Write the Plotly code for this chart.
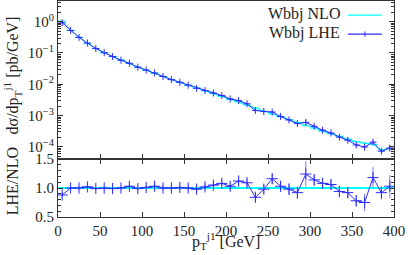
import plotly.graph_objects as go

# ---------------- data ----------------
pt = [5, 15, 25, 35, 45, 55, 65, 75, 85, 95, 105, 115, 125, 135, 145, 155, 165, 175, 185, 195,
      205, 215, 225, 235, 245, 255, 265, 275, 285, 295, 305, 315, 325, 335, 345, 355, 365, 375, 385, 395]
bin_half = [5] * 40

nlo = [1.05, 0.525, 0.316, 0.204, 0.141, 0.102, 0.0776, 0.0589, 0.0457, 0.0355,
       0.0282, 0.0224, 0.0178, 0.0141, 0.0115, 0.00933, 0.00759, 0.00617, 0.00501, 0.00407,
       0.00331, 0.00269, 0.00219, 0.00174, 0.00138, 0.00112, 9.12e-4, 7.41e-4, 6.03e-4, 4.90e-4,
       3.98e-4, 3.16e-4, 2.63e-4, 2.19e-4, 1.78e-4, 1.48e-4, 1.32e-4, 1.20e-4, 7.94e-5, 8.91e-5]
nlo_relerr = [0.02] * 10 + [0.03] * 10 + [0.04] * 10 + [0.05] * 10

ratio = [0.88, 1.00, 1.00, 1.02, 0.99, 1.00, 0.99, 1.00, 1.03, 0.99,
         1.01, 1.03, 1.00, 1.00, 1.01, 1.00, 0.98, 1.02, 1.05, 1.08,
         1.03, 1.12, 1.09, 0.84, 0.98, 1.16, 1.03, 0.98, 0.92, 1.24,
         1.14, 1.08, 1.06, 0.94, 0.92, 0.78, 0.75, 1.18, 0.92, 1.03]
ratio_err = [0.05, 0.03, 0.03, 0.03, 0.03, 0.03, 0.03, 0.03, 0.035, 0.035,
             0.04, 0.04, 0.04, 0.04, 0.045, 0.045, 0.05, 0.05, 0.055, 0.055,
             0.06, 0.07, 0.07, 0.08, 0.08, 0.09, 0.09, 0.10, 0.11, 0.22,
             0.10, 0.08, 0.09, 0.10, 0.10, 0.10, 0.15, 0.18, 0.12, 0.20]
nlo_ratio = [1.0] * 40

x_ticks = [0, 50, 100, 150, 200, 250, 300, 350, 400]
y_major = [1, 0.1, 0.01, 0.001, 0.0001]
y_major_text = ["10<sup>0</sup>", "10<sup>−1</sup>", "10<sup>−2</sup>", "10<sup>−3</sup>", "10<sup>−4</sup>"]
ratio_ticks = [0.5, 1.0, 1.5]
ratio_tick_text = ["0.5", "1.0", "1.5"]

# derived
lhe = [n * r for n, r in zip(nlo, ratio)]
lhe_err = [n * e for n, e in zip(nlo, ratio_err)]
nlo_err = [n * e for n, e in zip(nlo, nlo_relerr)]
y_minor = [m * 10.0 ** k for k in range(-5, 1) for m in range(2, 10)]

CYAN = "#00ffff"
BLUE = "#2b2bff"
ERRBLUE = "#7a7aff"
FRAME = "#333333"
FONT = "Liberation Serif"
TXT = "#222222"

fig = go.Figure()

# ---- main panel ----
fig.add_trace(go.Scatter(
    x=pt, y=nlo, mode="lines", xaxis="x", yaxis="y",
    line=dict(color=CYAN, width=1),
    error_x=dict(type="data", array=bin_half, color=CYAN, thickness=1, width=0),
    error_y=dict(type="data", array=nlo_err, color=CYAN, thickness=1, width=0),
    showlegend=False))
fig.add_trace(go.Scatter(
    x=pt, y=lhe, mode="lines+markers", xaxis="x", yaxis="y",
    line=dict(color=BLUE, width=1),
    marker=dict(symbol="cross-thin", size=5, line=dict(color=BLUE, width=1)),
    error_y=dict(type="data", array=lhe_err, color=ERRBLUE, thickness=1, width=0),
    showlegend=False))

# ---- ratio panel ----
fig.add_trace(go.Scatter(
    x=pt, y=nlo_ratio, mode="lines", xaxis="x2", yaxis="y2",
    line=dict(color=CYAN, width=2),
    error_x=dict(type="data", array=bin_half, color=CYAN, thickness=2, width=0),
    showlegend=False))
fig.add_trace(go.Scatter(
    x=pt, y=ratio, mode="lines+markers", xaxis="x2", yaxis="y2",
    line=dict(color=BLUE, width=1),
    marker=dict(symbol="cross-thin", size=8, line=dict(color=BLUE, width=1)),
    error_y=dict(type="data", array=ratio_err, color=ERRBLUE, thickness=1, width=0),
    showlegend=False))

split = 0.2685
axis_common = dict(showline=True, linecolor=FRAME, linewidth=1, ticks="inside",
                   tickcolor=FRAME, showgrid=False, zeroline=False, automargin=False)

fig.update_layout(
    width=408, height=255,
    margin=dict(l=58, r=14, t=1, b=38),
    paper_bgcolor="white", plot_bgcolor="white",
    font=dict(family=FONT, size=15, color=TXT),
    xaxis=dict(domain=[0, 1], anchor="y", range=[0, 400], tickvals=x_ticks,
               showticklabels=False, ticklen=5, mirror=True, **axis_common),
    yaxis=dict(domain=[split, 1], anchor="x", type="log", range=[-4.387, 0.661],
               tickvals=y_major, ticktext=y_major_text, ticklen=5, mirror="allticks",
               minor=dict(tickvals=y_minor, ticks="inside", ticklen=3, tickcolor=FRAME),
               **axis_common),
    xaxis2=dict(domain=[0, 1], anchor="y2", range=[0, 400], tickvals=x_ticks,
                ticklen=5, mirror="allticks", **axis_common),
    yaxis2=dict(domain=[0, split], anchor="x2", range=[0.5, 1.5],
                tickvals=ratio_ticks, ticktext=ratio_tick_text, ticklen=5, mirror="allticks",
                minor=dict(dtick=0.1, ticks="inside", ticklen=3, tickcolor=FRAME),
                **axis_common),
)

# ---- axis titles ----
fig.add_annotation(text="dσ/dp<sub>T</sub><sup>j1</sup> [pb/GeV]", xref="paper", yref="paper",
                   x=-0.137, y=0.655, textangle=-90, showarrow=False,
                   xanchor="center", yanchor="middle", font=dict(size=16))
fig.add_annotation(text="LHE/NLO", xref="paper", yref="paper",
                   x=-0.137, y=0.165, textangle=-90, showarrow=False,
                   xanchor="center", yanchor="middle", font=dict(size=16))
fig.add_annotation(text="p<sub>T</sub><sup>j1</sup> [GeV]", xref="paper", yref="paper",
                   x=0.5, y=-0.11, showarrow=False,
                   xanchor="center", yanchor="middle", font=dict(size=16))

# ---- legend (drawn by hand to put the samples right of the labels) ----
leg = [("Wbbj NLO", CYAN, 0.94), ("Wbbj LHE", BLUE, 0.852)]
for label, col, yy in leg:
    fig.add_annotation(text=label, xref="paper", yref="paper", x=0.845, y=yy,
                       xanchor="right", yanchor="middle", showarrow=False,
                       font=dict(family=FONT, size=16, color=TXT))
    fig.add_shape(type="line", xref="paper", yref="paper", x0=0.863, x1=0.964,
                  y0=yy - 0.005, y1=yy - 0.005, line=dict(color=col, width=1.2))
fig.add_shape(type="line", xref="paper", yref="paper", x0=0.9135, x1=0.9135,
              y0=0.852 - 0.017, y1=0.852 + 0.007, line=dict(color=BLUE, width=1))

fig.write_html("out.html", config={"displayModeBar": False},
               post_script="document.body.style.margin='0';document.body.style.padding='0';"
                           "document.documentElement.style.overflow='hidden';")
